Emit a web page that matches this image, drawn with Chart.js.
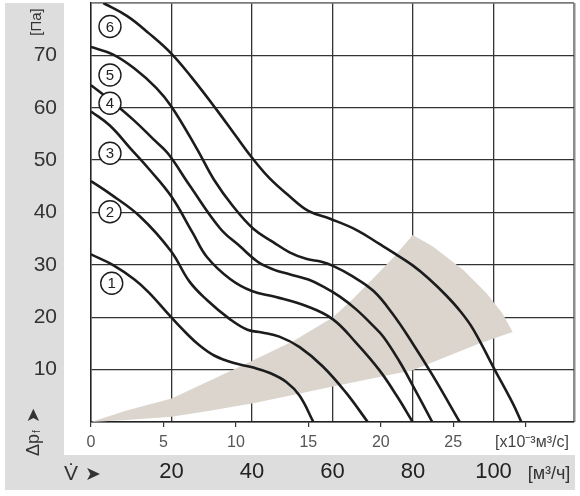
<!DOCTYPE html>
<html>
<head>
<meta charset="utf-8">
<script src="https://cdn.jsdelivr.net/npm/chart.js@4.4.1/dist/chart.umd.min.js"></script>
<style>
  html, body { margin: 0; padding: 0; background: #fff; }
</style>
</head>
<body>
<canvas id="chart" width="580" height="496"></canvas>
<script>
var ctx = document.getElementById("chart").getContext("2d");

// fan curves: [flow x10^-3 m3/s, pressure Pa]
var curve1 = [[0, 32], [1.5, 30], [3, 27.2], [4, 24.7], [5.5, 20.1], [6.6, 16.9], [7.5, 14.6], [8.5, 12.7], [9.8, 11.3], [11.2, 10.4], [12.3, 9.4], [13.5, 7.6], [14.4, 5], [15.35, 0]];
var curve2 = [[0, 46], [1.3, 43.6], [3.4, 39.2], [5.5, 32.7], [6.8, 26.8], [8, 23.3], [9.6, 19.6], [10.8, 17.6], [11.8, 17.1], [13, 16.3], [14.4, 14.3], [16, 10.6], [17.6, 5.6], [19.1, 0]];
var curve3 = [[0, 59.3], [1.3, 56.6], [2.7, 52.3], [4, 48.3], [5.56, 43], [7, 36.2], [8, 31.5], [9.6, 27.3], [11.1, 25], [12.7, 23.9], [14.9, 22.1], [16.7, 19.6], [18.3, 15.1], [19.9, 9.9], [21.1, 5], [22.2, 0]];
var curve4 = [[0, 64.3], [1.3, 61.5], [3, 57.5], [4.3, 54], [5.3, 51.3], [6.8, 45.2], [8.9, 37], [10.3, 33.5], [11.5, 30.6], [12.6, 29.1], [13.7, 28.2], [15, 27.2], [16, 25.9], [17.2, 23.9], [18.3, 21.5], [19.5, 18.3], [20.2, 16.2], [21.3, 11.5], [22.2, 7], [23.55, 0]];
var curve5 = [[0, 71.6], [1.5, 70.2], [3, 67.5], [4.5, 63.8], [5.56, 60.2], [7.3, 52.2], [8.5, 46.2], [9.8, 41.2], [11.2, 36.9], [12.6, 34.3], [13.7, 32.4], [14.9, 31.1], [15.9, 30.6], [16.7, 29.8], [18, 27.9], [19.5, 25], [20.8, 20.7], [22.2, 15], [23.6, 8.8], [25.45, 0]];
var curve6 = [[0.85, 80], [2.5, 77.5], [4, 74.2], [5.56, 70.3], [7, 65.6], [8.7, 59.5], [10, 54.6], [11.1, 50.5], [12.3, 46.6], [13.7, 43.1], [15, 40.3], [16.5, 38.8], [18.3, 36.7], [19.9, 34], [21, 32.1], [22.2, 29.9], [23.3, 27.4], [24.5, 24.2], [25.5, 21.1], [26.4, 17.6], [27.8, 10.3], [29.1, 3.6], [29.7, 0]];
var curves = [curve1, curve2, curve3, curve4, curve5, curve6];

// curve numbers in circles
var curveNames = ["1", "2", "3", "4", "5", "6"];
var labelX = [1.43, 1.31, 1.31, 1.31, 1.31, 1.31];
var labelY = [26.5, 40.15, 51.3, 60.85, 66.25, 75.5];

// shaded working zone: upper edge with the end arc, lower edge
var zoneTop = [[0, 0], [2.46, 2.2], [5.56, 4.5], [8.3, 8], [11.2, 11.8], [14, 15.5], [16.7, 20], [18, 23.3], [19.5, 27.5], [20.9, 31.5], [22.2, 35.7], [23.6, 33.5], [25.7, 29], [27.3, 24.6], [28.4, 20.7], [29.1, 17.2]];
var zoneBottom = [[0, 0], [2.46, 0.4], [5.56, 1], [8.3, 2.2], [11.2, 3.6], [14, 5.2], [16.7, 6.8], [19.9, 8.6], [22.2, 9.9], [26.8, 15], [29.1, 17.2]];

var flowTicks = [0, 5, 10, 15, 20, 25, 30];
var hourTicks = [0, 20, 40, 60, 80, 100, 120];
var pressureTicks = [0, 10, 20, 30, 40, 50, 60, 70, 80];

var font = "'Liberation Sans', Arial, sans-serif";

function pts(arr) {
  return arr.map(function (p) { return { x: p[0], y: p[1] }; });
}

var datasets = curves.map(function (c) {
  return {
    data: pts(c),
    showLine: true,
    borderColor: "#1c1c1c",
    borderWidth: 2.6,
    pointRadius: 0,
    tension: 0.4,
    fill: false,
    order: 1
  };
});

datasets.push({
  data: labelX.map(function (x, i) { return { x: x, y: labelY[i] }; }),
  showLine: false,
  pointRadius: 11,
  pointBackgroundColor: "#fff",
  pointBorderColor: "#1c1c1c",
  pointBorderWidth: 1.4,
  order: 0
});

// zone as one closed outline
datasets.push({
  data: pts(zoneTop.concat(zoneBottom.slice(0, -1).reverse())),
  showLine: true,
  borderWidth: 0,
  pointRadius: 0,
  tension: 0,
  backgroundColor: "#dbd5ce",
  fill: "shape",
  order: 5
});

var decor = {
  id: "decor",
  beforeDraw: function (chart) {
    var c = chart.ctx, a = chart.chartArea, x2 = chart.scales.x2;
    c.save();
    c.fillStyle = "#dddddd";
    c.fillRect(5, a.top, 59, x2.bottom - a.top);
    c.fillRect(5, x2.top, 570, x2.bottom - x2.top);
    c.restore();
  },
  afterDatasetsDraw: function (chart) {
    var c = chart.ctx, sx = chart.scales.x, sy = chart.scales.y;
    c.save();
    c.fillStyle = "#222";
    c.font = "15px " + font;
    c.textAlign = "center";
    c.textBaseline = "middle";
    curveNames.forEach(function (n, i) {
      c.fillText(n, sx.getPixelForValue(labelX[i]), sy.getPixelForValue(labelY[i]) + 1);
    });
    c.restore();
  },
  afterDraw: function (chart) {
    var c = chart.ctx;
    c.save();
    c.fillStyle = "#333";
    c.textBaseline = "middle";

    // y unit
    c.save();
    c.translate(37, 22);
    c.rotate(-Math.PI / 2);
    c.textAlign = "center";
    c.font = "15px " + font;
    c.fillText("[Па]", 0, 0);
    c.restore();

    // y title
    c.save();
    c.translate(34, 456);
    c.rotate(-Math.PI / 2);
    c.textAlign = "left";
    c.font = "18px " + font;
    c.fillText("Δp", 0, 0);
    var w = c.measureText("Δp").width;
    c.font = "10px " + font;
    c.fillText("f", w + 1, 3);
    c.font = "18px 'DejaVu Sans'";
    c.fillText("➤", w + 11, 0);
    c.restore();

    // x units
    c.textAlign = "center";
    c.font = "16px " + font;
    c.fillStyle = "#444";
    c.fillText("[x10⁻³м³/с]", 532, 443);
    c.fillStyle = "#333";
    c.font = "18px " + font;
    c.fillText("[м³/ч]", 549, 474);

    // x title
    c.font = "21px " + font;
    c.fillText("V̇", 71, 474);
    c.font = "19px 'DejaVu Sans'";
    c.fillText("➤", 93, 475);
    c.restore();
  }
};

var chart = new Chart(ctx, {
  type: "scatter",
  data: { datasets: datasets },
  options: {
    responsive: false,
    animation: false,
    layout: { autoPadding: false, padding: { top: 3, right: 6, bottom: 6, left: 0 } },
    plugins: { legend: { display: false }, tooltip: { enabled: false } },
    scales: {
      x: {
        type: "linear",
        position: "bottom",
        min: 0,
        max: 120 / 3.6,
        weight: 0,
        afterBuildTicks: function (s) { s.ticks = flowTicks.map(function (v) { return { value: v }; }); },
        afterFit: function (s) { s.height = 33; },
        grid: { drawOnChartArea: false, drawTicks: true, tickLength: 5, color: "#333", lineWidth: 1.2 },
        border: { display: true, color: "#222", width: 1.6 },
        ticks: {
          padding: 6,
          color: "#555",
          font: { family: font, size: 16 },
          callback: function (v) { return v <= 25 ? String(v) : ""; }
        }
      },
      x2: {
        type: "linear",
        position: "bottom",
        min: 0,
        max: 120,
        weight: 1,
        afterBuildTicks: function (s) { s.ticks = hourTicks.map(function (v) { return { value: v }; }); },
        afterFit: function (s) { s.height = 35; },
        grid: {
          drawOnChartArea: true,
          drawTicks: false,
          color: function (c) {
            var v = c.tick.value;
            if (v === 0) return "rgba(0,0,0,0)";
            if (v === 120) return "#8c8c8c";
            return "#333";
          },
          lineWidth: function (c) { return c.tick.value === 120 ? 2.5 : 1.3; }
        },
        border: { display: false },
        ticks: {
          padding: 4,
          color: "#222",
          font: { family: font, size: 22 },
          callback: function (v) { return v > 0 && v < 120 ? String(v) : ""; }
        }
      },
      y: {
        type: "linear",
        position: "left",
        min: 0,
        max: 80,
        afterBuildTicks: function (s) { s.ticks = pressureTicks.map(function (v) { return { value: v }; }); },
        afterFit: function (s) {
          s.width = 91;
          s.paddingTop = 0;
          s.paddingBottom = 0;
        },
        grid: {
          drawTicks: false,
          color: function (c) { return c.tick.value === 80 ? "#7a7a7a" : "#333"; },
          lineWidth: function (c) { return c.tick.value === 80 ? 1.8 : 1.3; }
        },
        border: { display: true, color: "#222", width: 1.6 },
        ticks: {
          padding: 34,
          color: "#333",
          font: { family: font, size: 21 },
          callback: function (v) { return v > 0 && v < 80 ? String(v) : ""; }
        }
      }
    }
  },
  plugins: [decor]
});
</script>
</body>
</html>
